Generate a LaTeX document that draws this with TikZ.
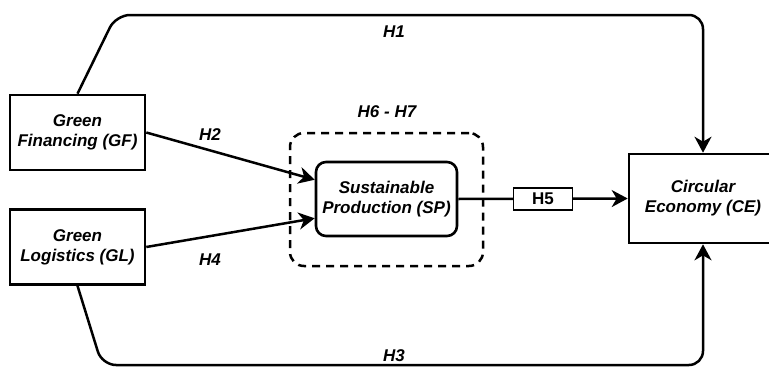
\documentclass[tikz,border=0pt]{standalone}
\usepackage{fontspec}
\setmainfont{Liberation Sans}
\usepackage{tikz}
\usetikzlibrary{arrows.meta, shapes}

\begin{document}
\begin{tikzpicture}[x=1pt, y=-1pt, line width=2.5pt,
        font=\fontsize{17}{20}\selectfont\bfseries\itshape,
        >={Stealth[length=16pt, width=17pt, inset=5pt]},
        var/.style={draw, line width=2.6pt, align=center, inner sep=0pt, minimum width=135pt, minimum height=75pt},
        hyp/.style={inner sep=1pt}]
        \useasboundingbox (0,0) rectangle (769,367);
        \clip (0,0) rectangle (769,367);
        \node[var] (gf) at (77.5,132.5) {Green\\Financing (GF)};
        \node[var] (gl) at (77.5,247) {Green\\Logistics (GL)};
        \node[var, rounded corners=10pt, minimum width=141pt, minimum height=74pt] (sp) at (386.5,199) {Sustainable\\Production (SP)};
        \node[var, minimum width=148pt, minimum height=89pt] (ce) at (703,198.5) {Circular\\Economy (CE)};
        \node[draw, dash pattern=on 8pt off 6pt, rounded corners=14pt, minimum width=193pt, minimum height=133pt] (med) at (386.5,199.5) {};
        
        \draw[->] (gf.east) -- (sp.165);
        \draw[->] (gl.east) -- (sp.195);
        \draw[->] (sp.east) -- node[draw, fill=white, line width=1.5pt, font=\fontsize{17}{20}\selectfont\bfseries, minimum width=59pt, minimum height=22pt, inner sep=0pt] (h5) {H5} (ce.west);
        \draw[->, rounded corners=14pt] (gf.north) -- (116,15) -- (703,15) -- (ce.north);
        \draw[->, rounded corners=14pt] (gl.south) -- (102,365) -- (703,365) -- (ce.south);
        
        \node[hyp] (h1) at (394,32) {H1};
        \node[hyp] (h2) at (210,135) {H2};
        \node[hyp] (h4) at (210,260) {H4};
        \node[hyp] (h3) at (394,356) {H3};
        \node[hyp] (h67) at (387,112) {H6 - H7};
    \end{tikzpicture}
\end{document}
